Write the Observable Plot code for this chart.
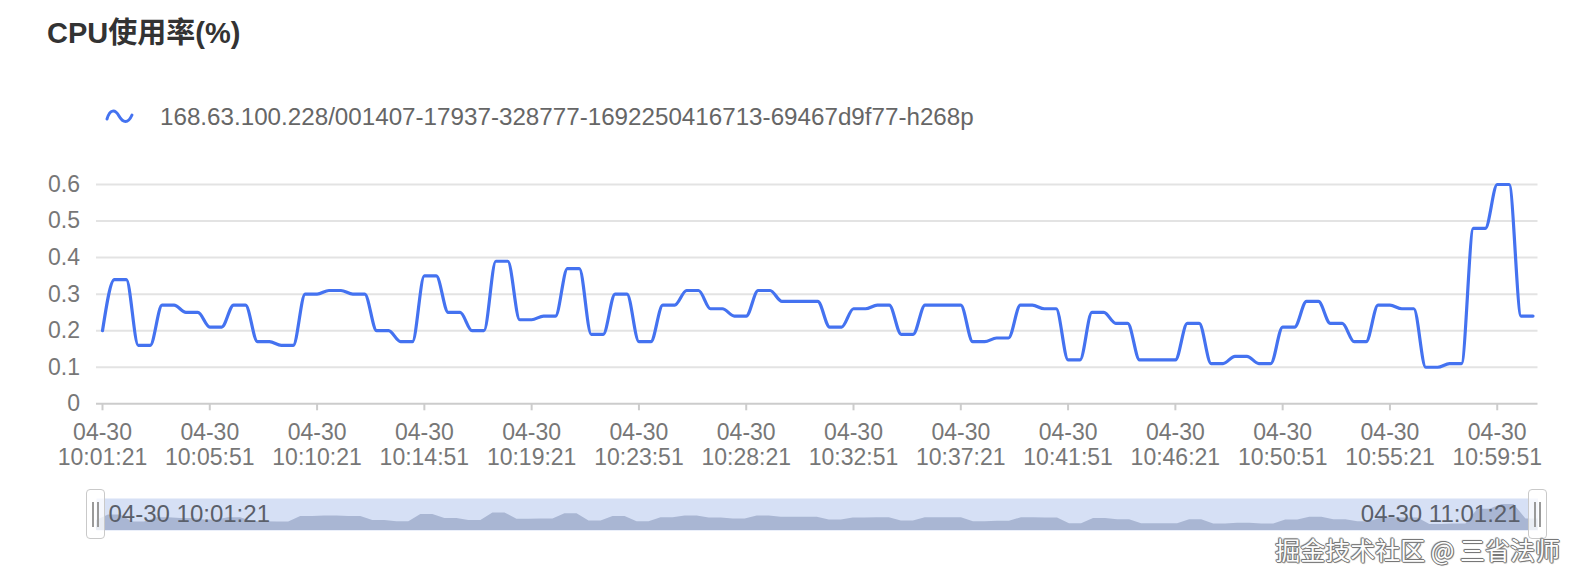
<!DOCTYPE html>
<html>
<head>
<meta charset="utf-8">
<script src="https://cdn.jsdelivr.net/npm/d3@7"></script>
<script src="https://cdn.jsdelivr.net/npm/@observablehq/plot@0.6"></script>
<style>
  html, body { margin: 0; padding: 0; background: #fff; }
  #wrap { position: relative; width: 1578px; height: 580px; overflow: hidden;
          font-family: "Liberation Sans", Arial, "Noto Sans CJK SC", sans-serif; }
  #title { position: absolute; left: 47px; top: 18.5px; font-size: 29px; line-height: 29px;
           font-weight: bold; color: #333; white-space: nowrap; }
  #legend-icon { position: absolute; left: 105px; top: 108px; }
  #legend-text { position: absolute; left: 160px; top: 104.5px; font-size: 24.2px; line-height: 24px;
                 color: #666; white-space: nowrap; }
  #main { position: absolute; left: 0; top: 160px; }
  #slider { position: absolute; left: 0; top: 485px; }
  .handle { position: absolute; top: 489px; width: 17px; height: 48px; border: 1.5px solid #c9c9c9;
            border-radius: 4px; background: rgba(255,255,255,0.75); box-sizing: content-box; }
  .handle::before, .handle::after { content: ""; position: absolute; top: 12px; height: 25px;
            width: 1.5px; background: #9a9a9a; }
  .handle::before { left: 5px; }
  .handle::after { left: 10px; }
  #wm { position: absolute; right: 18px; top: 536.5px; font-size: 25px; line-height: 25px;
        font-family: "Noto Sans CJK SC", sans-serif; color: #fdfdfd; white-space: nowrap;
        text-shadow: 1px 0 0 #777, -1px 0 0 #777, 0 1px 0 #777, 0 -1px 0 #777,
                     1px 1px 1px #888, -1px -1px 1px #888; }
</style>
</head>
<body>
<div id="wrap">
  <div id="title"></div>
  <svg id="legend-icon" width="30" height="18" viewBox="0 0 30 18">
    <path d="M2,11 C5,1 10,1 14,8 C18,15 23,16 27,7" fill="none" stroke="#4472f0" stroke-width="3" stroke-linecap="round"/>
  </svg>
  <div id="legend-text"></div>
  <div id="main"></div>
  <div id="slider"></div>
  <div class="handle" style="left:86px"></div>
  <div class="handle" style="left:1528px"></div>
  <div id="wm"></div>
</div>
<script>
// ---- data ----
const chartTitle = "CPU使用率(%)";
const seriesName = "168.63.100.228/001407-17937-328777-1692250416713-69467d9f77-h268p";
const watermark = "掘金技术社区 @ 三省法师";
const dayLabel = "04-30";
const startTime = "10:01:21";
const endTime = "11:01:21";
const stepSeconds = 30;
const tickTimes = ["10:01:21","10:05:51","10:10:21","10:14:51","10:19:21","10:23:51","10:28:21",
                   "10:32:51","10:37:21","10:41:51","10:46:21","10:50:51","10:55:21","10:59:51"];
const yTicks = [0, 0.1, 0.2, 0.3, 0.4, 0.5, 0.6];
const cpu = [
  0.20, 0.34, 0.34, 0.16, 0.16, 0.27, 0.27, 0.25, 0.25, 0.21,
  0.21, 0.27, 0.27, 0.17, 0.17, 0.16, 0.16, 0.30, 0.30, 0.31,
  0.31, 0.30, 0.30, 0.20, 0.20, 0.17, 0.17, 0.35, 0.35, 0.25,
  0.25, 0.20, 0.20, 0.39, 0.39, 0.23, 0.23, 0.24, 0.24, 0.37,
  0.37, 0.19, 0.19, 0.30, 0.30, 0.17, 0.17, 0.27, 0.27, 0.31,
  0.31, 0.26, 0.26, 0.24, 0.24, 0.31, 0.31, 0.28, 0.28, 0.28,
  0.28, 0.21, 0.21, 0.26, 0.26, 0.27, 0.27, 0.19, 0.19, 0.27,
  0.27, 0.27, 0.27, 0.17, 0.17, 0.18, 0.18, 0.27, 0.27, 0.26,
  0.26, 0.12, 0.12, 0.25, 0.25, 0.22, 0.22, 0.12, 0.12, 0.12,
  0.12, 0.22, 0.22, 0.11, 0.11, 0.13, 0.13, 0.11, 0.11, 0.21,
  0.21, 0.28, 0.28, 0.22, 0.22, 0.17, 0.17, 0.27, 0.27, 0.26,
  0.26, 0.10, 0.10, 0.11, 0.11, 0.48, 0.48, 0.60, 0.60, 0.24,
  0.24
];

// ---- build ----
const lineColor = "#4472f0";
const toDate = s => new Date(`2023-04-30T${s}Z`);
const t0 = toDate(startTime), t1 = toDate(endTime);
const rows = cpu.map((v, i) => ({t: new Date(t0.getTime() + i * stepSeconds * 1000), v}));
const ticks = tickTimes.map(toDate);
const fmt = d => `${dayLabel}\n${d3.utcFormat("%H:%M:%S")(d)}`;

document.getElementById("title").textContent = chartTitle;
document.getElementById("legend-text").textContent = seriesName;
document.getElementById("wm").textContent = watermark;

const main = Plot.plot({
  width: 1578, height: 320,
  marginTop: 24, marginBottom: 76.7, marginLeft: 96, marginRight: 40.5,
  style: {fontFamily: '"Liberation Sans", Arial, sans-serif', fontSize: "23px", color: "#777", background: "transparent"},
  x: {type: "utc", domain: [t0, t1], insetLeft: 6, insetRight: 5},
  y: {domain: [0, 0.6]},
  marks: [
    Plot.ruleY(yTicks.filter(d => d > 0), {stroke: "#e3e3e3", strokeWidth: 2}),
    Plot.ruleY([0], {stroke: "#cccccc", strokeWidth: 2}),
    Plot.axisY({ticks: yTicks, tickSize: 0, tickPadding: 16.5, label: null, fill: "#777",
                fontSize: 23, tickFormat: d => String(d)}),
    Plot.axisX({ticks, tickFormat: fmt, tickSize: 7, tickPadding: 11.7, label: null,
                stroke: "#cccccc", strokeWidth: 2, fill: "#777", fontSize: 23, lineHeight: 1.087}),
    Plot.line(rows, {x: "t", y: "v", stroke: lineColor, strokeWidth: 3.2, curve: "monotone-x",
                     strokeLinejoin: "round"})
  ]
});
document.getElementById("main").append(main);

const slider = Plot.plot({
  width: 1578, height: 60,
  marginTop: 13, marginBottom: 15, marginLeft: 96, marginRight: 40.5,
  style: {fontFamily: '"Liberation Sans", Arial, sans-serif', fontSize: "24px", background: "transparent"},
  x: {type: "utc", domain: [t0, t1], axis: null},
  y: {domain: [-0.05, 0.75], axis: null},
  marks: [
    Plot.frame({fill: "#d6e0f5", stroke: null}),
    Plot.areaY(rows, {x: "t", y1: -0.05, y2: "v", fill: "#a9b6d3"}),
    Plot.text([`${dayLabel} ${startTime}`], {frameAnchor: "left", dx: 12, fill: "#5a5f6a", fontSize: 24}),
    Plot.text([`${dayLabel} ${endTime}`], {frameAnchor: "right", dx: -17.5, fill: "#5a5f6a", fontSize: 24})
  ]
});
document.getElementById("slider").append(slider);
</script>
</body>
</html>
